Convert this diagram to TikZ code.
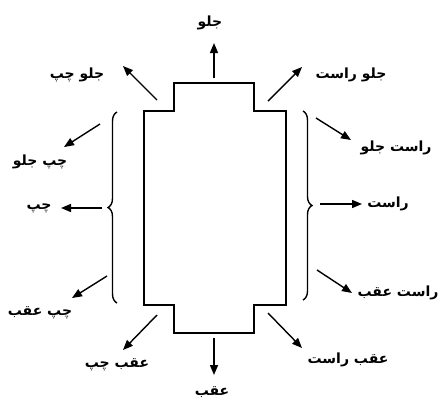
\documentclass[tikz,border=0pt]{standalone}
\usepackage{fontspec}
\newfontfamily\arabicfont[Script=Arabic]{DejaVu Sans}
\TeXXeTstate=1
\usetikzlibrary{arrows.meta,decorations.pathreplacing}
\tikzset{
  outline/.style={line width=2pt,line join=miter},
  arr/.style={line width=1.4pt,-{Triangle[length=10pt,width=8pt]}},
  bracestyle/.style={line width=1.4pt,decorate,decoration={brace,amplitude=9pt}},
  lab/.style={font=\arabicfont\bfseries\fontsize{14}{16}\selectfont,inner sep=1pt}
}
\newcommand{\fa}[1]{\beginR #1\endR}
\begin{document}
\begin{tikzpicture}[x=1pt,y=-1pt]
\useasboundingbox (0,0) rectangle (441,400);
% body outline
\draw[outline] (174,83) -- (254,83) -- (254,111) -- (286,111) -- (286,305) -- (254,305) -- (254,333) -- (174,333) -- (174,305) -- (144,305) -- (144,111) -- (174,111) -- cycle;
% braces
\draw[bracestyle] (117,303) -- (117,112);
\draw[bracestyle] (303,111) -- (303,300);
% labels
\node[lab] (fr) at (210,23) {\fa{جلو}};
\node[lab] (frl) at (77,75) {\fa{جلو چپ}};
\node[lab] (frr) at (351,75) {\fa{جلو راست}};
\node[lab] (lf) at (40,162) {\fa{چپ جلو}};
\node[lab] (rf) at (396,148) {\fa{راست جلو}};
\node[lab] (l) at (39,208) {\fa{چپ}};
\node[lab] (r) at (388,204) {\fa{راست}};
\node[lab] (lr) at (40,313) {\fa{چپ عقب}};
\node[lab] (rr) at (398,293) {\fa{راست عقب}};
\node[lab] (rel) at (117,365) {\fa{عقب چپ}};
\node[lab] (rer) at (348,360) {\fa{عقب راست}};
\node[lab] (re) at (212,392) {\fa{عقب}};
% arrow coordinates
\coordinate (a1) at (214,78);  \coordinate (b1) at (214,43);
\coordinate (a2) at (157,100); \coordinate (b2) at (123,66);
\coordinate (a3) at (268,101); \coordinate (b3) at (302,67);
\coordinate (a4) at (100,124); \coordinate (b4) at (64,147);
\coordinate (a5) at (316,118); \coordinate (b5) at (351,140);
\coordinate (a6) at (102,208); \coordinate (b6) at (61,208);
\coordinate (a7) at (320,204); \coordinate (b7) at (362,204);
\coordinate (a8) at (107,276); \coordinate (b8) at (72,298);
\coordinate (a9) at (317,270); \coordinate (b9) at (352,293);
\coordinate (a10) at (157,315); \coordinate (b10) at (123,350);
\coordinate (a11) at (268,313); \coordinate (b11) at (302,348);
\coordinate (a12) at (214,338); \coordinate (b12) at (214,375);
\foreach \i in {1,...,12} {\draw[arr] (a\i) -- (b\i);}
\end{tikzpicture}
\end{document}
